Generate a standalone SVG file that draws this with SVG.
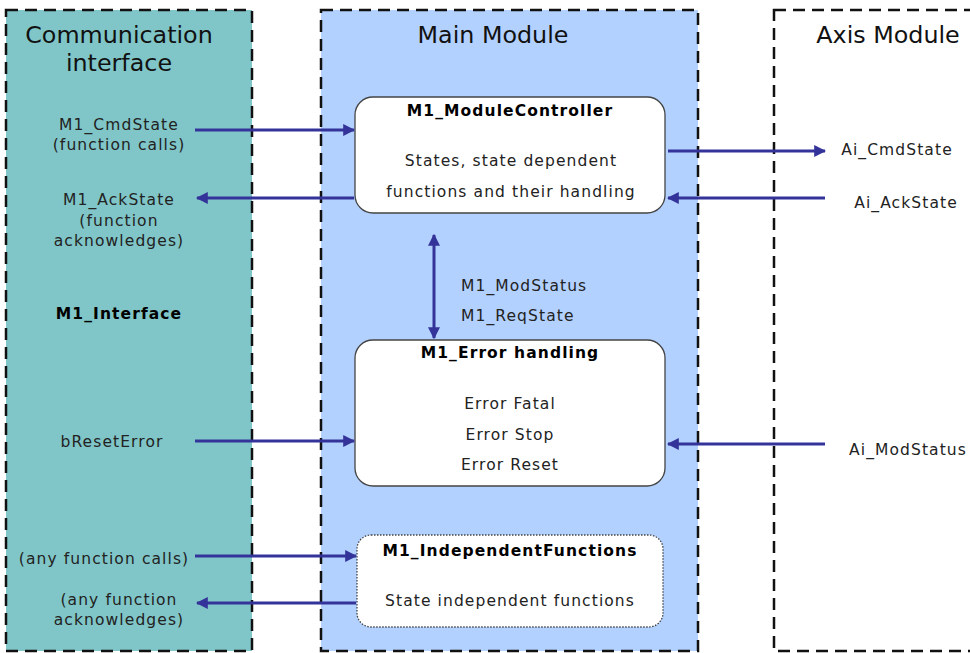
<svg xmlns="http://www.w3.org/2000/svg" width="970" height="653" viewBox="0 0 970 653">
<style>
.panel{stroke:#111;stroke-width:2.5;stroke-dasharray:12,7}
.title{font-family:"DejaVu Sans",Verdana,sans-serif;font-size:23.8px;fill:#111;text-anchor:middle}
.t{font-family:"DejaVu Sans",Verdana,sans-serif;font-size:15.5px;letter-spacing:1.1px;fill:#222;text-anchor:middle}
.b{font-weight:bold;fill:#000}
.s{text-anchor:start}
.box{fill:#fff;stroke:#444;stroke-width:1.3}
.dot{stroke-dasharray:1.5,1.5}
.arr{stroke:#333399;stroke-width:3;fill:none}
</style>
<defs>
<marker id="ah" viewBox="0 0 10 10" refX="9" refY="5" markerWidth="4" markerHeight="4" orient="auto-start-reverse" markerUnits="strokeWidth">
<path d="M0,0 L10,5 L0,10 z" fill="#333399"/>
</marker>
</defs>
<g id="comm">
<rect class="panel" x="6" y="10" width="246" height="641" fill="#80C6C8"/>
<text class="title" x="119" y="43">Communication</text>
<text class="title" x="119" y="71">interface</text>
<text class="t" x="119" y="130">M1_CmdState</text>
<text class="t" x="119" y="150">(function calls)</text>
<text class="t" x="119" y="205">M1_AckState</text>
<text class="t" x="119" y="226">(function</text>
<text class="t" x="119" y="246">acknowledges)</text>
<text class="t b" x="119" y="319">M1_Interface</text>
<text class="t" x="112" y="447">bResetError</text>
<text class="t" x="104" y="564">(any function calls)</text>
<text class="t" x="119" y="605">(any function</text>
<text class="t" x="119" y="625">acknowledges)</text>
</g>
<g id="main">
<rect class="panel" x="321" y="10" width="377" height="641" fill="#B3D1FF"/>
<text class="title" x="493" y="43">Main Module</text>
</g>
<g id="axis">
<rect class="panel" x="774" y="10" width="210" height="641" fill="#fff"/>
<text class="title" x="888" y="43">Axis Module</text>
<text class="t" x="897" y="155">Ai_CmdState</text>
<text class="t" x="906" y="208">Ai_AckState</text>
<text class="t" x="908" y="455">Ai_ModStatus</text>
</g>
<g id="controller">
<rect class="box" x="355" y="97" width="310" height="116" rx="18"/>
<text class="t b" x="510" y="116">M1_ModuleController</text>
<text class="t" x="511" y="166">States, state dependent</text>
<text class="t" x="511" y="197">functions and their handling</text>
</g>
<g id="error">
<rect class="box" x="355" y="340" width="310" height="146" rx="18"/>
<text class="t b" x="510" y="358">M1_Error handling</text>
<text class="t" x="510" y="409">Error Fatal</text>
<text class="t" x="510" y="440">Error Stop</text>
<text class="t" x="510" y="470">Error Reset</text>
</g>
<g id="independent">
<rect class="box dot" x="357" y="535" width="306" height="92" rx="14"/>
<text class="t b" x="510" y="556">M1_IndependentFunctions</text>
<text class="t" x="510" y="606">State independent functions</text>
</g>
<g id="status-label">
<text class="t s" x="461" y="291">M1_ModStatus</text>
<text class="t s" x="461" y="321">M1_ReqState</text>
</g>
<g id="connectors">
<line class="arr" x1="195" y1="130" x2="354" y2="130" marker-end="url(#ah)"/>
<line class="arr" x1="354" y1="198" x2="197" y2="198" marker-end="url(#ah)"/>
<line class="arr" x1="668" y1="151" x2="825" y2="151" marker-end="url(#ah)"/>
<line class="arr" x1="825" y1="198" x2="668" y2="198" marker-end="url(#ah)"/>
<line class="arr" x1="434" y1="235" x2="434" y2="338" marker-start="url(#ah)" marker-end="url(#ah)"/>
<line class="arr" x1="195" y1="441" x2="354" y2="441" marker-end="url(#ah)"/>
<line class="arr" x1="825" y1="444" x2="668" y2="444" marker-end="url(#ah)"/>
<line class="arr" x1="195" y1="556" x2="356" y2="556" marker-end="url(#ah)"/>
<line class="arr" x1="356" y1="603" x2="197" y2="603" marker-end="url(#ah)"/>
</g>
</svg>
